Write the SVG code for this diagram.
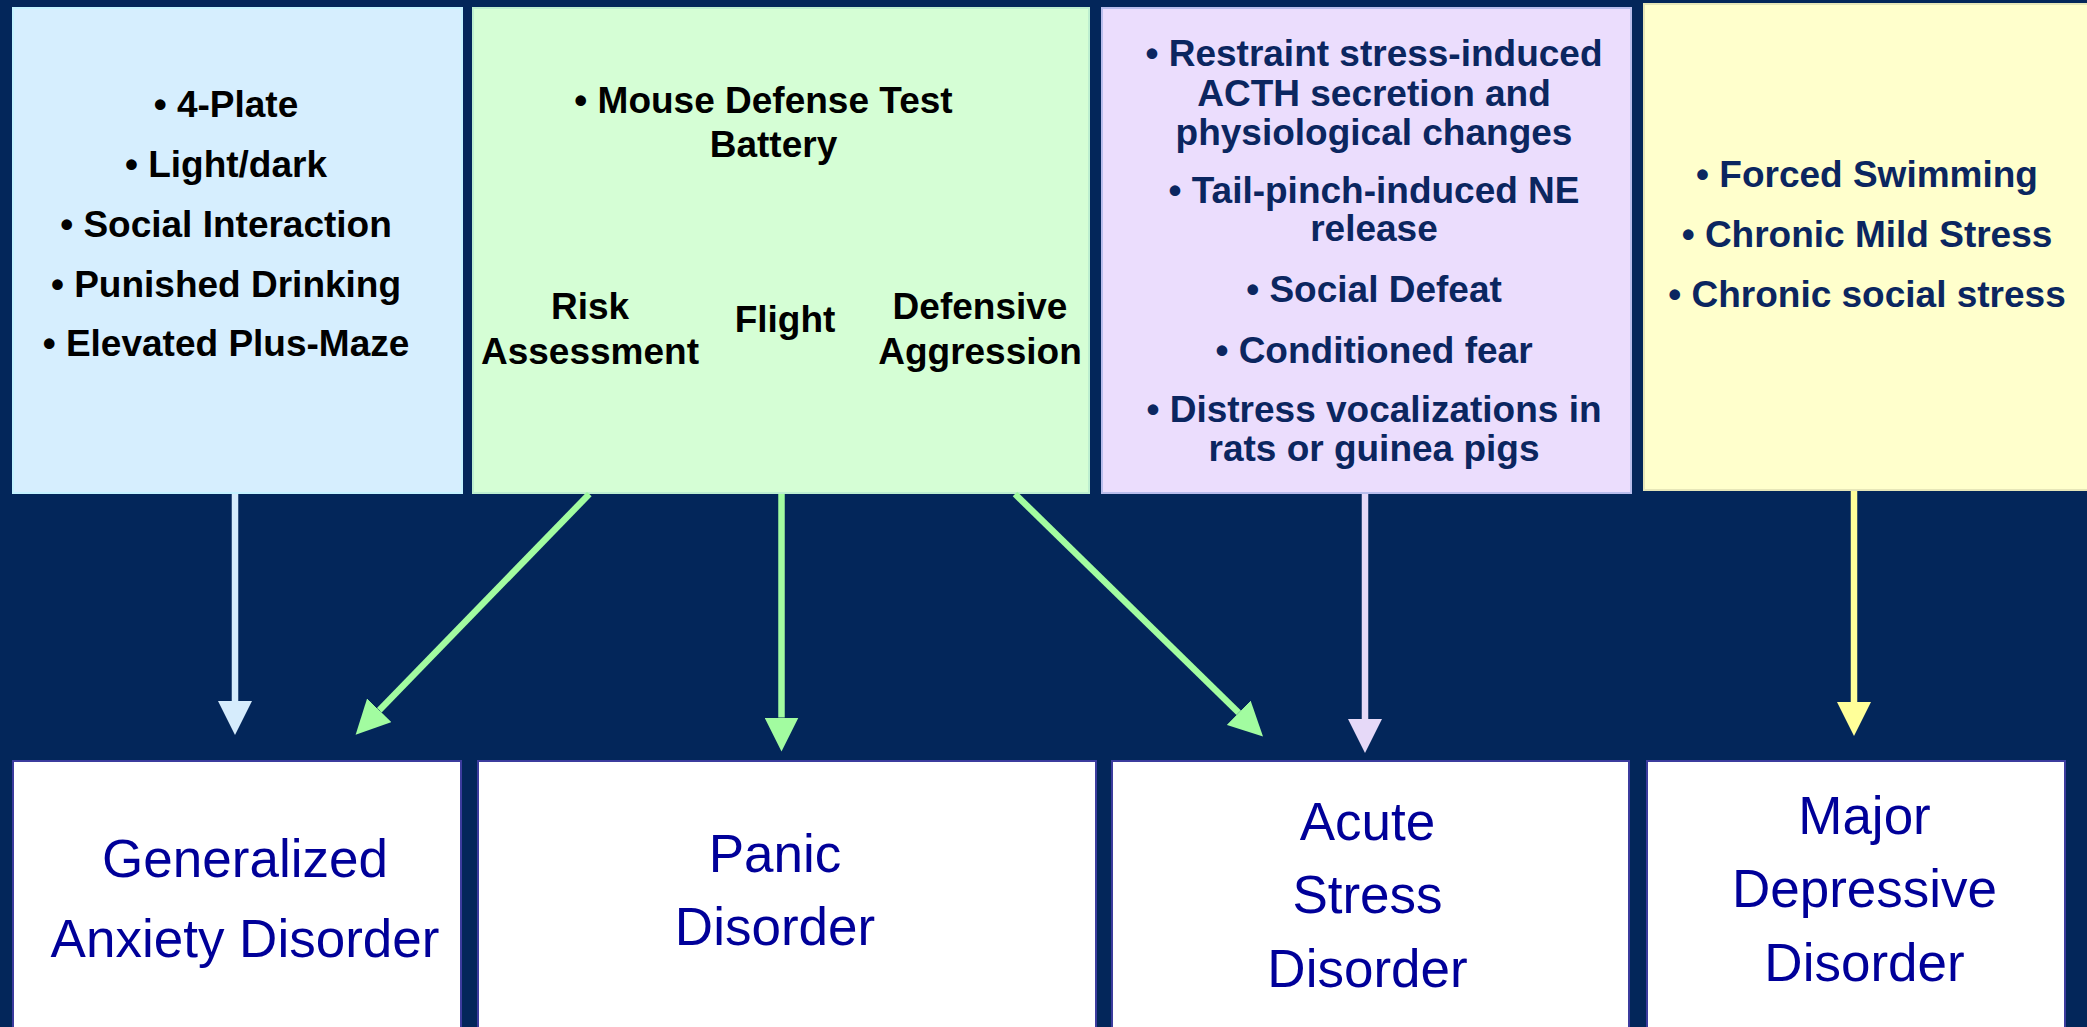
<svg xmlns="http://www.w3.org/2000/svg" width="2087" height="1027" viewBox="0 0 2087 1027">
<defs>
<style>
.top{font-family:"Liberation Sans",Arial,sans-serif;font-weight:bold;font-size:37px;text-anchor:middle}
.blk{fill:#000000}
.nav{fill:#0B2660}
.bot{font-family:"Liberation Sans",Arial,sans-serif;font-size:53px;text-anchor:middle;fill:#000099}
.dis{fill:#FFFFFF;stroke:#3C3C9E;stroke-width:2}
.conn{fill:none;stroke-width:6.5}
</style>
<marker id="ahB" markerUnits="userSpaceOnUse" markerWidth="34" markerHeight="34" refX="0" refY="17" orient="auto" viewBox="0 0 34 34"><path d="M0,0 L34,17 L0,34 Z" fill="#D6ECFC"/></marker>
<marker id="ahG" markerUnits="userSpaceOnUse" markerWidth="34" markerHeight="34" refX="0" refY="17" orient="auto" viewBox="0 0 34 34"><path d="M0,0 L34,17 L0,34 Z" fill="#A2FCA0"/></marker>
<marker id="ahP" markerUnits="userSpaceOnUse" markerWidth="34" markerHeight="34" refX="0" refY="17" orient="auto" viewBox="0 0 34 34"><path d="M0,0 L34,17 L0,34 Z" fill="#E6D9F8"/></marker>
<marker id="ahY" markerUnits="userSpaceOnUse" markerWidth="34" markerHeight="34" refX="0" refY="17" orient="auto" viewBox="0 0 34 34"><path d="M0,0 L34,17 L0,34 Z" fill="#FFFF99"/></marker>
</defs>
<rect x="0" y="0" width="2087" height="1027" fill="#03265A"/>

<g id="box-anxiety-tests">
<rect x="13" y="8" width="449" height="485" fill="#D6EEFE" stroke="#C4F2FF" stroke-width="2"/>
<text class="top blk" x="226" y="117">• 4-Plate</text>
<text class="top blk" x="226" y="177">• Light/dark</text>
<text class="top blk" x="226" y="237">• Social Interaction</text>
<text class="top blk" x="226" y="297">• Punished Drinking</text>
<text class="top blk" x="226" y="356">• Elevated Plus-Maze</text>
</g>

<g id="box-defense-battery">
<rect x="473" y="8" width="616" height="485" fill="#D5FED5" stroke="#BDEFD0" stroke-width="2"/>
<text class="top blk" x="763.5" y="113">• Mouse Defense Test</text>
<text class="top blk" x="773.5" y="157">Battery</text>
<text class="top blk" x="590" y="319">Risk</text>
<text class="top blk" x="590" y="364">Assessment</text>
<text class="top blk" x="785" y="332">Flight</text>
<text class="top blk" x="980" y="319">Defensive</text>
<text class="top blk" x="980" y="364">Aggression</text>
</g>

<g id="box-stress-tests">
<rect x="1102" y="8" width="529" height="485" fill="#EBDDFD" stroke="#B9BDEC" stroke-width="2"/>
<text class="top nav" x="1374" y="66">• Restraint stress-induced</text>
<text class="top nav" x="1374" y="106">ACTH secretion and</text>
<text class="top nav" x="1374" y="145">physiological changes</text>
<text class="top nav" x="1374" y="203">• Tail-pinch-induced NE</text>
<text class="top nav" x="1374" y="241">release</text>
<text class="top nav" x="1374" y="302">• Social Defeat</text>
<text class="top nav" x="1374" y="363">• Conditioned fear</text>
<text class="top nav" x="1374" y="422">• Distress vocalizations in</text>
<text class="top nav" x="1374" y="461">rats or guinea pigs</text>
</g>

<g id="box-depression-tests">
<rect x="1644" y="4" width="450" height="486" fill="#FFFFCC" stroke="#E6E6B8" stroke-width="2"/>
<text class="top nav" x="1867" y="187">• Forced Swimming</text>
<text class="top nav" x="1867" y="247">• Chronic Mild Stress</text>
<text class="top nav" x="1867" y="307">• Chronic social stress</text>
</g>

<g id="gad">
<rect class="dis" x="13" y="761" width="448" height="290"/>
<text class="bot" x="245" y="877">Generalized</text>
<text class="bot" x="245" y="957">Anxiety Disorder</text>
</g>

<g id="panic">
<rect class="dis" x="478" y="761" width="618" height="290"/>
<text class="bot" x="775" y="872">Panic</text>
<text class="bot" x="775" y="945">Disorder</text>
</g>

<g id="asd">
<rect class="dis" x="1112" y="761" width="517" height="290"/>
<text class="bot" x="1367.5" y="840">Acute</text>
<text class="bot" x="1367.5" y="913">Stress</text>
<text class="bot" x="1367.5" y="987">Disorder</text>
</g>

<g id="mdd">
<rect class="dis" x="1647" y="761" width="418" height="290"/>
<text class="bot" x="1864.5" y="834">Major</text>
<text class="bot" x="1864.5" y="907">Depressive</text>
<text class="bot" x="1864.5" y="981">Disorder</text>
</g>

<g id="connectors">
<line class="conn" x1="235" y1="494" x2="235" y2="701" stroke="#D6ECFC" marker-end="url(#ahB)"/>
<line class="conn" x1="589.3" y1="494" x2="379.3" y2="710.3" stroke="#A2FCA0" marker-end="url(#ahG)"/>
<line class="conn" x1="781.5" y1="494" x2="781.5" y2="717.5" stroke="#A2FCA0" marker-end="url(#ahG)"/>
<line class="conn" x1="1015" y1="494" x2="1238.7" y2="712.7" stroke="#A2FCA0" marker-end="url(#ahG)"/>
<line class="conn" x1="1365" y1="494" x2="1365" y2="719" stroke="#E6D9F8" marker-end="url(#ahP)"/>
<line class="conn" x1="1854" y1="491" x2="1854" y2="702" stroke="#FFFF99" marker-end="url(#ahY)"/>
</g>
</svg>
